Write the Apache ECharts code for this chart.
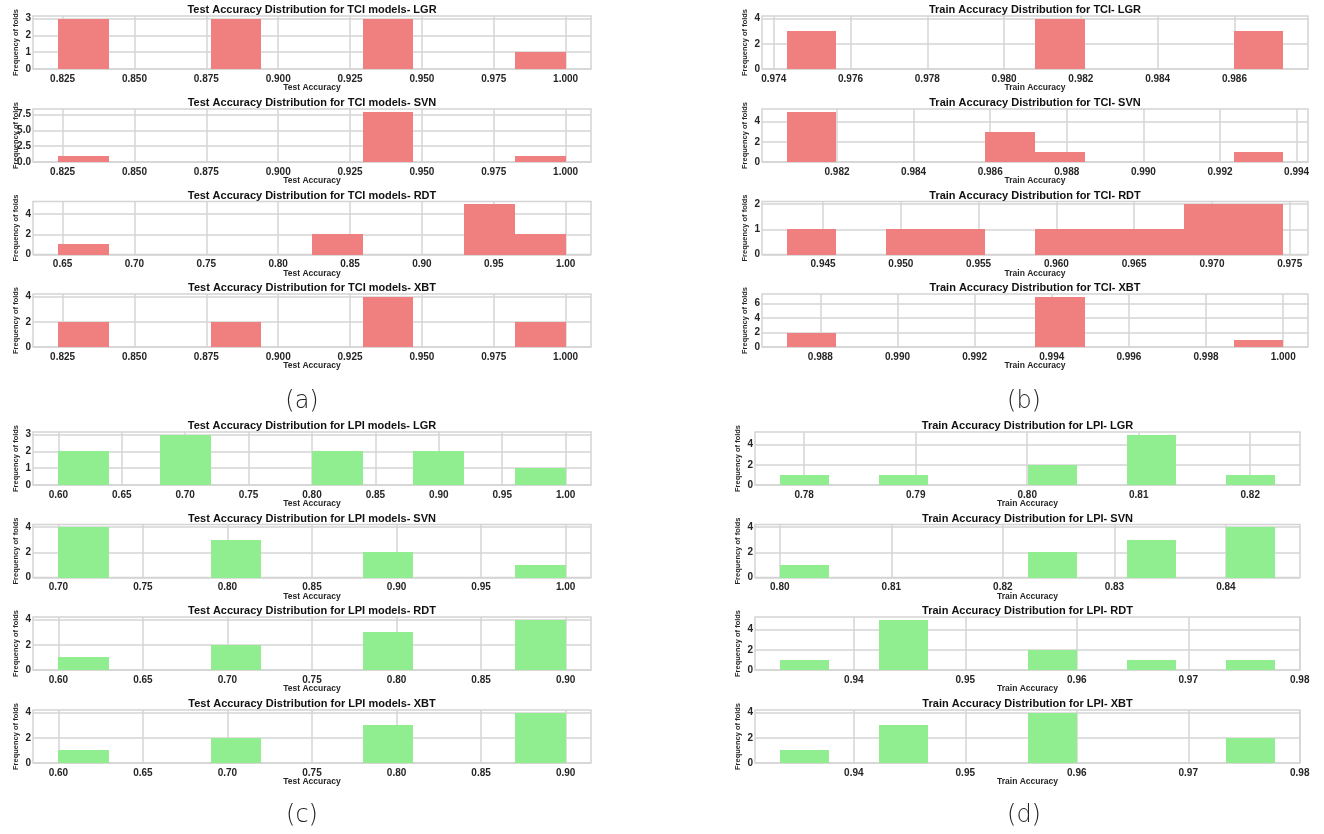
<!DOCTYPE html>
<html>
<head>
<meta charset="utf-8">
<script src="https://cdn.jsdelivr.net/npm/echarts@6/dist/echarts.min.js"></script>
<style>
  html, body { margin: 0; padding: 0; background: #ffffff; }
  #chart { width: 1324px; height: 834px; }
</style>
</head>
<body>
<div id="chart"></div>
<script>
// Model order inside every panel
const models = ['LGR', 'SVN', 'RDT', 'XBT'];

// (a) TCI test accuracy: fold counts in 10 equal bins over [min, max]
const tciTestCounts = [
  [3, 0, 0, 3, 0, 0, 3, 0, 0, 1],
  [1, 0, 0, 0, 0, 0, 8, 0, 0, 1],
  [1, 0, 0, 0, 0, 2, 0, 0, 5, 2],
  [2, 0, 0, 2, 0, 0, 4, 0, 0, 2]
];
const tciTestRanges = [[0.82353, 1.0], [0.82353, 1.0], [0.64706, 1.0], [0.82353, 1.0]];
const tciTestXTicks = [
  [0.825, 0.85, 0.875, 0.9, 0.925, 0.95, 0.975, 1.0],
  [0.825, 0.85, 0.875, 0.9, 0.925, 0.95, 0.975, 1.0],
  [0.65, 0.7, 0.75, 0.8, 0.85, 0.9, 0.95, 1.0],
  [0.825, 0.85, 0.875, 0.9, 0.925, 0.95, 0.975, 1.0]
];
const tciTestYTicks = [[0, 1, 2, 3], [0, 2.5, 5, 7.5], [0, 2, 4], [0, 2, 4]];

// (b) TCI train accuracy
const tciTrainCounts = [
  [3, 0, 0, 0, 0, 4, 0, 0, 0, 3],
  [5, 0, 0, 0, 3, 1, 0, 0, 0, 1],
  [1, 0, 1, 1, 0, 1, 1, 1, 2, 2],
  [2, 0, 0, 0, 0, 7, 0, 0, 0, 1]
];
const tciTrainRanges = [[0.97434, 0.98727], [0.98069, 0.99365], [0.94267, 0.97458], [0.98713, 1.0]];
const tciTrainXTicks = [
  [0.974, 0.976, 0.978, 0.98, 0.982, 0.984, 0.986],
  [0.982, 0.984, 0.986, 0.988, 0.99, 0.992, 0.994],
  [0.945, 0.95, 0.955, 0.96, 0.965, 0.97, 0.975],
  [0.988, 0.99, 0.992, 0.994, 0.996, 0.998, 1.0]
];
const tciTrainYTicks = [[0, 2, 4], [0, 2, 4], [0, 1, 2], [0, 2, 4, 6]];

// (c) LPI test accuracy
const lpiTestCounts = [
  [2, 0, 3, 0, 0, 2, 0, 2, 0, 1],
  [4, 0, 0, 3, 0, 0, 2, 0, 0, 1],
  [1, 0, 0, 2, 0, 0, 3, 0, 0, 4],
  [1, 0, 0, 2, 0, 0, 3, 0, 0, 4]
];
const lpiTestRanges = [[0.6, 1.0], [0.7, 1.0], [0.6, 0.9], [0.6, 0.9]];
const lpiTestXTicks = [
  [0.6, 0.65, 0.7, 0.75, 0.8, 0.85, 0.9, 0.95, 1.0],
  [0.7, 0.75, 0.8, 0.85, 0.9, 0.95, 1.0],
  [0.6, 0.65, 0.7, 0.75, 0.8, 0.85, 0.9],
  [0.6, 0.65, 0.7, 0.75, 0.8, 0.85, 0.9]
];
const lpiTestYTicks = [[0, 1, 2, 3], [0, 2, 4], [0, 2, 4], [0, 2, 4]];

// (d) LPI train accuracy
const lpiTrainCounts = [
  [1, 0, 1, 0, 0, 2, 0, 5, 0, 1],
  [1, 0, 0, 0, 0, 2, 0, 3, 0, 4],
  [1, 0, 5, 0, 0, 2, 0, 1, 0, 1],
  [1, 0, 3, 0, 0, 4, 0, 0, 0, 2]
];
const lpiTrainRanges = [[0.77781, 0.82224], [0.8, 0.84442], [0.93336, 0.9778], [0.93336, 0.9778]];
const lpiTrainXTicks = [
  [0.78, 0.79, 0.8, 0.81, 0.82],
  [0.8, 0.81, 0.82, 0.83, 0.84],
  [0.94, 0.95, 0.96, 0.97, 0.98],
  [0.94, 0.95, 0.96, 0.97, 0.98]
];
const lpiTrainYTicks = [[0, 2, 4], [0, 2, 4], [0, 2, 4], [0, 2, 4]];

const captions = ['(a)', '(b)', '(c)', '(d)'];

const FONT = "'Liberation Sans', Arial, sans-serif";
const INK = '#262626';
const GRID_LINE = '#d4d4d4';
const RED = '#F08080';
const GREEN = '#90EE90';

const groups = [
  { counts: tciTestCounts, ranges: tciTestRanges, xTicks: tciTestXTicks, yTicks: tciTestYTicks,
    title: m => 'Test Accuracy Distribution for TCI models- ' + m, xName: 'Test Accuracy',
    color: RED, left: 33, width: 558, tops: [16, 109, 201.5, 294] },
  { counts: tciTrainCounts, ranges: tciTrainRanges, xTicks: tciTrainXTicks, yTicks: tciTrainYTicks,
    title: m => 'Train Accuracy Distribution for TCI- ' + m, xName: 'Train Accuracy',
    color: RED, left: 762, width: 546, tops: [16, 109, 201.5, 294] },
  { counts: lpiTestCounts, ranges: lpiTestRanges, xTicks: lpiTestXTicks, yTicks: lpiTestYTicks,
    title: m => 'Test Accuracy Distribution for LPI models- ' + m, xName: 'Test Accuracy',
    color: GREEN, left: 33, width: 558, tops: [432, 524.5, 617, 710] },
  { counts: lpiTrainCounts, ranges: lpiTrainRanges, xTicks: lpiTrainXTicks, yTicks: lpiTrainYTicks,
    title: m => 'Train Accuracy Distribution for LPI- ' + m, xName: 'Train Accuracy',
    color: GREEN, left: 755, width: 545, tops: [432, 524.5, 617, 710] }
];
const PANEL_H = 53;

function decimalsOf(ticks) {
  return ticks.reduce((d, t) => Math.max(d, (String(t).split('.')[1] || '').length), 0);
}

// Each bin is a rectangle from its left to right edge, 0 up to the count;
// edges snap to whole pixels so neighbouring bins join without a seam
function renderBin(params, api) {
  const lo = api.coord([api.value(0), 0]);
  const hi = api.coord([api.value(1), api.value(2)]);
  const x0 = Math.round(lo[0]);
  const x1 = Math.round(hi[0]);
  const y0 = Math.round(lo[1]);
  const y1 = Math.round(hi[1]);
  return {
    type: 'rect',
    shape: { x: x0, y: y1, width: x1 - x0, height: y0 - y1 },
    style: { fill: api.visual('color') }
  };
}

const grids = [], xAxes = [], yAxes = [], series = [], titles = [];

groups.forEach(g => {
  models.forEach((m, r) => {
    const idx = grids.length;
    const [lo, hi] = g.ranges[r];
    const span = hi - lo;
    const binW = span / 10;
    const counts = g.counts[r];
    const maxCount = Math.max(...counts);
    const xDec = decimalsOf(g.xTicks[r]);
    const yDec = decimalsOf(g.yTicks[r]);
    const top = g.tops[r];

    grids.push({
      left: g.left, top: top, width: g.width, height: PANEL_H,
      show: true, borderColor: GRID_LINE, borderWidth: 1.5, backgroundColor: '#ffffff'
    });

    xAxes.push({
      type: 'value', gridIndex: idx,
      min: lo - 0.05 * span, max: hi + 0.05 * span,
      name: g.xName, nameLocation: 'middle', nameGap: 14.5, nameMoveOverlap: false,
      nameTextStyle: { fontFamily: FONT, fontWeight: 'bold', fontSize: 8.5, color: INK },
      axisLine: { show: false },
      axisTick: { show: false, customValues: g.xTicks[r] },
      axisLabel: {
        customValues: g.xTicks[r], margin: 5,
        fontFamily: FONT, fontWeight: 'bold', fontSize: 10, color: INK,
        formatter: v => v.toFixed(xDec)
      },
      splitLine: { show: true, lineStyle: { color: GRID_LINE, width: 1.5 } }
    });

    yAxes.push({
      type: 'value', gridIndex: idx,
      min: 0, max: maxCount * 1.05,
      name: 'Frequency of folds', nameLocation: 'middle', nameGap: 13, nameMoveOverlap: false,
      nameTextStyle: { fontFamily: FONT, fontWeight: 'bold', fontSize: 7.5, color: INK },
      axisLine: { show: false },
      axisTick: { show: false, customValues: g.yTicks[r] },
      axisLabel: {
        customValues: g.yTicks[r], margin: 2,
        fontFamily: FONT, fontWeight: 'bold', fontSize: 10, color: INK,
        formatter: v => v.toFixed(yDec)
      },
      splitLine: { show: true, lineStyle: { color: GRID_LINE, width: 1.5 } }
    });

    const bins = [];
    counts.forEach((c, k) => {
      if (c > 0) bins.push([lo + k * binW, lo + (k + 1) * binW, c]);
    });

    series.push({
      type: 'custom', xAxisIndex: idx, yAxisIndex: idx,
      renderItem: renderBin,
      encode: { x: [0, 1], y: 2 },
      itemStyle: { color: g.color },
      data: bins,
      silent: true
    });

    titles.push({
      text: g.title(m),
      left: g.left + g.width / 2, top: top - 11.5, textAlign: 'center', padding: 0,
      textStyle: { fontFamily: FONT, fontWeight: 'bold', fontSize: 11, color: '#111111' }
    });
  });
});

const captionPos = [[302, 402], [1024, 402], [302, 816], [1024, 816]];
const graphics = captions.map((t, i) => ({
  type: 'text',
  x: captionPos[i][0], y: captionPos[i][1],
  style: {
    text: t, align: 'center', verticalAlign: 'middle',
    font: "300 24px 'DejaVu Sans', sans-serif", fill: '#222222'
  }
}));

const chart = echarts.init(document.getElementById('chart'), null, { renderer: 'canvas' });
chart.setOption({
  animation: false,
  backgroundColor: '#ffffff',
  title: titles,
  grid: grids,
  xAxis: xAxes,
  yAxis: yAxes,
  series: series,
  graphic: graphics
});
</script>
</body>
</html>
